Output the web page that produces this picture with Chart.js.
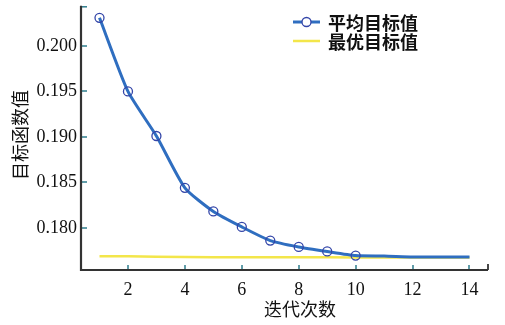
<!DOCTYPE html>
<html>
<head>
<meta charset="utf-8">
<script src="https://cdn.jsdelivr.net/npm/chart.js@4/dist/chart.umd.min.js"></script>
<style>
html,body{margin:0;padding:0;background:#fff;}
#wrap{width:505px;height:325px;position:relative;}
</style>
</head>
<body>
<div id="wrap"><canvas id="c"></canvas></div>
<script>
const iterations = [1,2,3,4,5,6,7,8,9,10,11,12,13,14];
const avgValues = [0.2031,0.1950,0.1901,0.1844,0.1818,0.1801,0.1786,0.1779,0.1774,0.17695,0.1769,0.1768,0.1768,0.1768];
const bestValues = [0.17688,0.17686,0.17683,0.17679,0.17677,0.17676,0.17675,0.17675,0.17675,0.17674,0.17674,0.17674,0.17674,0.17674];
const xTicks = [2,4,6,8,10,12,14];
const yTicks = [0.180,0.185,0.190,0.195,0.200];
const seriesNames = ['平均目标值','最优目标值'];
const xTitle = '迭代次数';
const yTitle = '目标函数值';
const markerShown = iterations.map(i => i <= 10 ? 4.5 : 0);

const BLUE = '#2f6ec0', MARK = '#3345a8', YELLOW = '#f3e64a', AXIS = '#333333', TICK = '#2d7c8c';
const CJK = '"Noto Sans CJK SC", sans-serif';
const SERIF = '"Liberation Serif", "Times New Roman", serif';

const decor = {
  id: 'decor',
  afterDraw(chart) {
    const ctx = chart.ctx, a = chart.chartArea;
    const xs = chart.scales.x, ys = chart.scales.y;
    ctx.save();
    ctx.strokeStyle = TICK; ctx.lineWidth = 1.5;
    xTicks.forEach(v => { const px = Math.round(xs.getPixelForValue(v)); ctx.beginPath(); ctx.moveTo(px, a.bottom); ctx.lineTo(px, a.bottom - 5); ctx.stroke(); });
    yTicks.forEach(v => { const py = Math.round(ys.getPixelForValue(v)); ctx.beginPath(); ctx.moveTo(a.left, py); ctx.lineTo(a.left + 6, py); ctx.stroke(); });
    ctx.beginPath(); ctx.moveTo(a.left, a.top + 1); ctx.lineTo(a.left + 6, a.top + 1); ctx.stroke();
    ctx.strokeStyle = AXIS; ctx.lineWidth = 2.2;
    ctx.beginPath(); ctx.moveTo(a.left, a.top); ctx.lineTo(a.left, a.bottom); ctx.lineTo(a.right, a.bottom); ctx.stroke();
    ctx.lineWidth = 1.8;
    ctx.beginPath(); ctx.moveTo(a.right, a.bottom); ctx.lineTo(a.right, a.bottom - 6); ctx.stroke();
    ctx.fillStyle = '#111';
    ctx.font = '18px ' + CJK;
    ctx.textAlign = 'center'; ctx.textBaseline = 'middle';
    ctx.fillText(xTitle, 300, 309);
    ctx.save(); ctx.translate(20, 135); ctx.rotate(-Math.PI/2); ctx.fillText(yTitle, 0, 0); ctx.restore();
    const lx0 = 293, lx1 = 320, rows = [22, 41];
    chart.data.datasets.forEach((ds, i) => {
      const y = rows[i];
      ctx.strokeStyle = ds.borderColor; ctx.lineWidth = ds.borderWidth;
      ctx.beginPath(); ctx.moveTo(lx0, y); ctx.lineTo(lx1, y); ctx.stroke();
      if (i === 0) {
        ctx.fillStyle = '#fff'; ctx.strokeStyle = MARK; ctx.lineWidth = 1.3;
        ctx.beginPath(); ctx.arc((lx0 + lx1) / 2, y, 4.5, 0, Math.PI * 2); ctx.fill(); ctx.stroke();
      }
      ctx.fillStyle = '#111'; ctx.font = 'bold 18px ' + CJK; ctx.textAlign = 'left';
      ctx.fillText(seriesNames[i], 328, y + 1);
    });
    ctx.restore();
  }
};

new Chart(document.getElementById('c'), {
  type: 'line',
  data: {
    datasets: [
      { label: seriesNames[0], data: iterations.map((x, i) => ({x, y: avgValues[i]})),
        borderColor: BLUE, borderWidth: 3, pointRadius: markerShown, pointBorderColor: MARK,
        pointBackgroundColor: 'rgba(255,255,255,0)', pointBorderWidth: 1.3, tension: 0.2 },
      { label: seriesNames[1], data: iterations.map((x, i) => ({x, y: bestValues[i]})),
        borderColor: YELLOW, borderWidth: 2.5, pointRadius: 0, tension: 0 }
    ]
  },
  options: {
    responsive: true, maintainAspectRatio: false, animation: false,
    layout: { padding: { top: 5, right: 17, left: 0, bottom: 0 } },
    plugins: { legend: { display: false }, tooltip: { enabled: false } },
    scales: {
      x: { type: 'linear', min: 0.35, max: 14.65,
        afterBuildTicks: s => { s.ticks = xTicks.map(v => ({value: v})); },
        afterFit: s => { s.height = 55; s.paddingLeft = 0; s.paddingRight = 0; },
        grid: { display: false, drawTicks: false }, border: { display: false },
        ticks: { font: { family: SERIF, size: 18 }, color: '#111', padding: 9, maxRotation: 0 } },
      y: { type: 'linear', min: 0.17536, max: 0.20442,
        afterBuildTicks: s => { s.ticks = yTicks.map(v => ({value: v})); },
        afterFit: s => { s.width = 81; s.paddingTop = 0; s.paddingBottom = 0; },
        grid: { display: false, drawTicks: false }, border: { display: false },
        ticks: { font: { family: SERIF, size: 18 }, color: '#111', padding: 4, callback: v => v.toFixed(3) } }
    }
  },
  plugins: [decor]
});
</script>
</body>
</html>
